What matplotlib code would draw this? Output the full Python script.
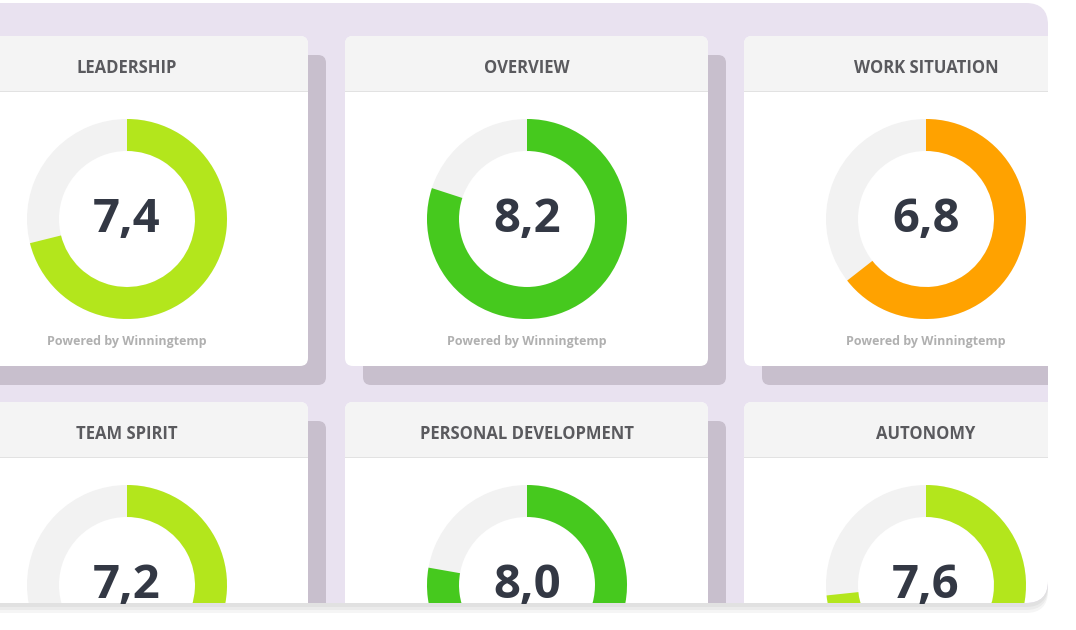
import matplotlib
matplotlib.use("Agg")
import matplotlib.pyplot as plt
from matplotlib.patches import FancyBboxPatch, Wedge, Rectangle

categories = ["LEADERSHIP", "OVERVIEW", "WORK SITUATION",
              "TEAM SPIRIT", "PERSONAL DEVELOPMENT", "AUTONOMY"]
values = [7.4, 8.2, 6.8, 7.2, 8.0, 7.6]
scale_min, scale_max = 1, 10
colors = ["#b3e61c", "#46c91e", "#ffa200", "#b3e61c", "#46c91e", "#b3e61c"]
footer = "Powered by Winningtemp"

fig = plt.figure(figsize=(10.76, 6.3), dpi=100)
ax = fig.add_axes([0, 0, 1, 1])
ax.set_xlim(0, 1076); ax.set_ylim(630, 0); ax.axis("off")
FONT = "Open Sans"

for i in range(3):
    ax.add_patch(FancyBboxPatch((-60, 7 + i * 3), 1108, 600, boxstyle="round,pad=0,rounding_size=22",
                                fc="#000000", ec="none", alpha=0.04, zorder=0))
panel = FancyBboxPatch((-60, 3), 1108, 600, boxstyle="round,pad=0,rounding_size=22",
                       fc="#e9e2f0", ec="none", zorder=1)
ax.add_patch(panel)

col_x = [-55, 345, 744]
row_y = [36, 402]
W, H = 363, 330
for i, (cat, v, c) in enumerate(zip(categories, values, colors)):
    x0 = col_x[i % 3]; y0 = row_y[i // 3]
    arts = []
    arts.append(FancyBboxPatch((x0 + 18, y0 + 19), W, H, boxstyle="round,pad=0,rounding_size=8",
                               fc="#c8bfcd", ec="none", zorder=2))
    arts.append(FancyBboxPatch((x0, y0), W, H, boxstyle="round,pad=0,rounding_size=8",
                               fc="white", ec="none", zorder=3))
    arts.append(FancyBboxPatch((x0, y0), W, 56, boxstyle="round,pad=0,rounding_size=8",
                               fc="#f4f4f4", ec="none", zorder=4))
    arts.append(Rectangle((x0, y0 + 40), W, 16, fc="#f4f4f4", ec="none", zorder=4))
    arts.append(Rectangle((x0, y0 + 55), W, 1.2, fc="#e2e2e2", ec="none", zorder=5))
    cx, cy = x0 + 182, y0 + 183
    arts.append(Wedge((cx, cy), 100, 0, 360, width=32, fc="#f2f2f2", ec="none", zorder=5))
    frac = (v - scale_min) / (scale_max - scale_min)
    arts.append(Wedge((cx, cy), 100, -90, -90 + 360 * frac, width=32, fc=c, ec="none", zorder=6))
    for a in arts:
        ax.add_patch(a); a.set_clip_path(panel)
    t1 = ax.text(cx, y0 + 32, cat, ha="center", va="center", fontsize=12, fontweight="bold",
                 color="#5a5a5e", family=FONT, zorder=7)
    t2 = ax.text(cx, cy, f"{v:.1f}".replace(".", ","), ha="center", va="center", fontsize=34,
                 fontweight="bold", color="#333844", family=FONT, zorder=7)
    t3 = ax.text(cx, y0 + 305, footer, ha="center", va="center", fontsize=9, fontweight="bold",
                 color="#b0b0b0", family=FONT, zorder=7)
    for t in (t1, t2, t3):
        t.set_clip_path(panel)

fig.savefig("out.png", dpi=100, facecolor="white")
